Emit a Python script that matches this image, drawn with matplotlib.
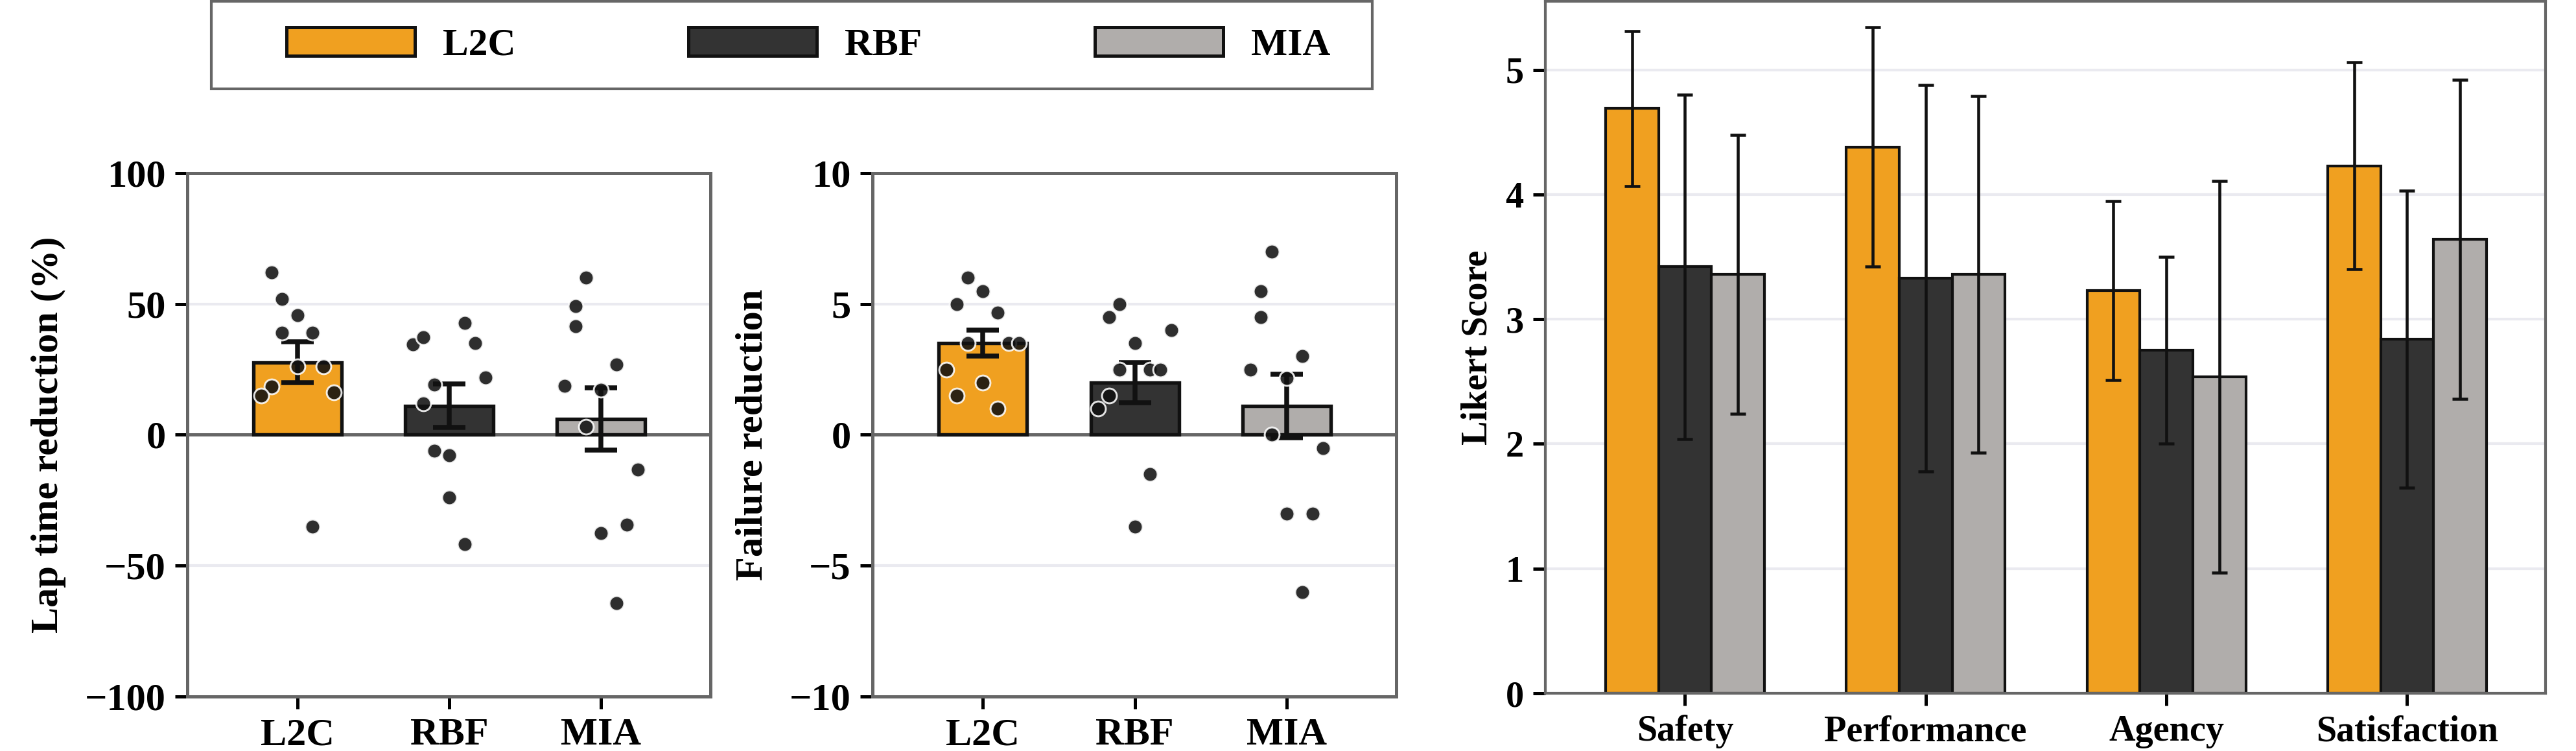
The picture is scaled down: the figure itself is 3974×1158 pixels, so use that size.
import matplotlib
matplotlib.use("Agg")
import matplotlib.pyplot as plt
from matplotlib.patches import Patch, Rectangle
import numpy as np

plt.rcParams["font.family"] = ["Liberation Serif", "DejaVu Serif"]
plt.rcParams["font.weight"] = "bold"
plt.rcParams["axes.labelweight"] = "bold"

# ---- data ----
methods = ["L2C", "RBF", "MIA"]
method_colors = ["#F0A020", "#333333", "#B0ADAB"]

# lap time reduction (%) per participant, with the strip jitter seen in the figure
lap_l2c = [62.0, 52.0, 45.7, 39.1, 39.1, 26.1, 26.1, 18.5, 15.1, 16.2, -35.0]
lap_l2c_jit = [-0.17, -0.10, 0.0, -0.10, 0.10, 0.0, 0.17, -0.17, -0.24, 0.24, 0.10]
lap_rbf = [34.5, 37.2, 42.7, 35.0, 21.9, 19.1, 11.9, -6.1, -7.9, -23.9, -41.8]
lap_rbf_jit = [-0.24, -0.17, 0.10, 0.17, 0.24, -0.10, -0.17, -0.10, 0.0, 0.0, 0.10]
lap_mia = [60.0, 49.1, 41.5, 26.8, 18.7, 17.2, 3.1, -13.3, -34.4, -37.5, -64.3]
lap_mia_jit = [-0.10, -0.17, -0.17, 0.10, -0.24, 0.0, -0.10, 0.24, 0.17, 0.0, 0.10]

# failure reduction per participant
fail_l2c = [6.0, 5.5, 5.0, 4.67, 3.5, 3.5, 3.5, 2.5, 2.0, 1.5, 1.0]
fail_l2c_jit = [-0.10, 0.0, -0.17, 0.10, -0.10, 0.17, 0.24, -0.24, 0.0, -0.17, 0.10]
fail_rbf = [5.0, 4.5, 4.0, 3.5, 2.5, 2.5, 2.5, 1.5, 1.0, -1.5, -3.5]
fail_rbf_jit = [-0.10, -0.17, 0.24, 0.0, -0.10, 0.10, 0.17, -0.17, -0.24, 0.10, 0.0]
fail_mia = [7.0, 5.5, 4.5, 3.0, 2.5, 2.17, 0.0, -0.5, -3.0, -3.0, -6.0]
fail_mia_jit = [-0.10, -0.17, -0.17, 0.10, -0.24, 0.0, -0.10, 0.24, 0.0, 0.17, 0.10]

# Likert questionnaire (mean and sd)
likert_items = ["Safety", "Performance", "Agency", "Satisfaction"]
likert_l2c = [4.69, 4.38, 3.23, 4.23]
likert_l2c_sd = [0.62, 0.96, 0.72, 0.83]
likert_rbf = [3.42, 3.33, 2.75, 2.84]
likert_rbf_sd = [1.38, 1.55, 0.75, 1.19]
likert_mia = [3.36, 3.36, 2.54, 3.64]
likert_mia_sd = [1.12, 1.43, 1.57, 1.28]

W, H = 3974, 1158
fig = plt.figure(figsize=(W / 300, H / 300), dpi=300)

SPINE = "#666666"
GRID = "#EAEAF0"


def style_axes(ax, fs):
    for s in ax.spines.values():
        s.set_color(SPINE)
        s.set_linewidth(1.2)
    ax.tick_params(labelsize=fs, length=4.5, width=1.2, color="black")
    ax.yaxis.grid(True, color=GRID, linewidth=1.0)
    ax.set_axisbelow(True)


def strip_panel(ax, groups, jitters, ylim, yticks, ylabel):
    x = np.arange(len(methods))
    means = [np.mean(g) for g in groups]
    ses = [np.std(g, ddof=1) / np.sqrt(len(g)) for g in groups]
    ax.axhline(0, color=SPINE, linewidth=1.2, zorder=1)
    ax.bar(x, means, width=0.58, color=method_colors, edgecolor="#111111",
           linewidth=1.3, zorder=2)
    ax.errorbar(x, means, yerr=ses, fmt="none", ecolor="#111111",
                elinewidth=1.8, capsize=5.9, capthick=1.8, zorder=3)
    for i, (g, j) in enumerate(zip(groups, jitters)):
        ax.scatter(i + np.array(j), g, s=30, color="#111111", alpha=0.88,
                   edgecolors="white", linewidths=0.7, zorder=4)
    ax.set_xlim(-0.725, 2.72)
    ax.set_ylim(*ylim)
    ax.set_yticks(yticks)
    ax.set_xticks(x)
    ax.set_xticklabels(methods)
    ax.set_ylabel(ylabel, fontsize=14.5, labelpad=7)
    style_axes(ax, 14.5)


ax1 = fig.add_axes([289 / W, 1 - 1074 / H, 807 / W, 807 / H])
strip_panel(ax1, [lap_l2c, lap_rbf, lap_mia],
            [lap_l2c_jit, lap_rbf_jit, lap_mia_jit],
            (-100, 100), [-100, -50, 0, 50, 100], "Lap time reduction (%)")

ax2 = fig.add_axes([1346 / W, 1 - 1074 / H, 808 / W, 807 / H])
strip_panel(ax2, [fail_l2c, fail_rbf, fail_mia],
            [fail_l2c_jit, fail_rbf_jit, fail_mia_jit],
            (-10, 10), [-10, -5, 0, 5, 10], "Failure reduction")

# ---- Likert panel ----
ax3 = fig.add_axes([2384 / W, 1 - 1069 / H, 1543 / W, 1067 / H])
xs = np.arange(len(likert_items))
bw = 0.22
series = [(likert_l2c, likert_l2c_sd), (likert_rbf, likert_rbf_sd),
          (likert_mia, likert_mia_sd)]
for k, (vals, sds) in enumerate(series):
    pos = xs + (k - 1) * bw
    ax3.bar(pos, vals, width=bw, color=method_colors[k], edgecolor="#111111",
            linewidth=1.0, zorder=2)
    ax3.errorbar(pos, vals, yerr=sds, fmt="none", ecolor="#111111",
                 elinewidth=1.1, capsize=2.8, capthick=1.1, zorder=3)
ax3.set_xlim(-0.58, 3.575)
ax3.set_ylim(0, 5.55)
ax3.set_yticks(range(0, 6))
ax3.set_xticks(xs)
ax3.set_xticklabels(likert_items)
ax3.set_ylabel("Likert Score", fontsize=13.5)
style_axes(ax3, 13.5)
for s in ax3.spines.values():
    s.set_linewidth(1.0)

# ---- shared legend (frame drawn separately so the padding matches) ----
fig.patches.append(Rectangle((326 / W, 1 - 137 / H), (2117 - 326) / W, 135 / H,
                             transform=fig.transFigure, facecolor="white",
                             edgecolor=SPINE, linewidth=1.0, zorder=5))
handles = [Patch(facecolor=c, edgecolor="#111111", linewidth=1.2, label=m)
           for m, c in zip(methods, method_colors)]
leg = fig.legend(handles=handles, loc="center left",
                 bbox_to_anchor=(442 / W, 1 - 70 / H), ncol=3, fontsize=14.3,
                 handlelength=3.32, handleheight=0.77, handletextpad=0.72,
                 columnspacing=4.48, borderpad=0, frameon=False,
                 borderaxespad=0)
leg.set_zorder(6)

fig.savefig("out.png", dpi=300)
